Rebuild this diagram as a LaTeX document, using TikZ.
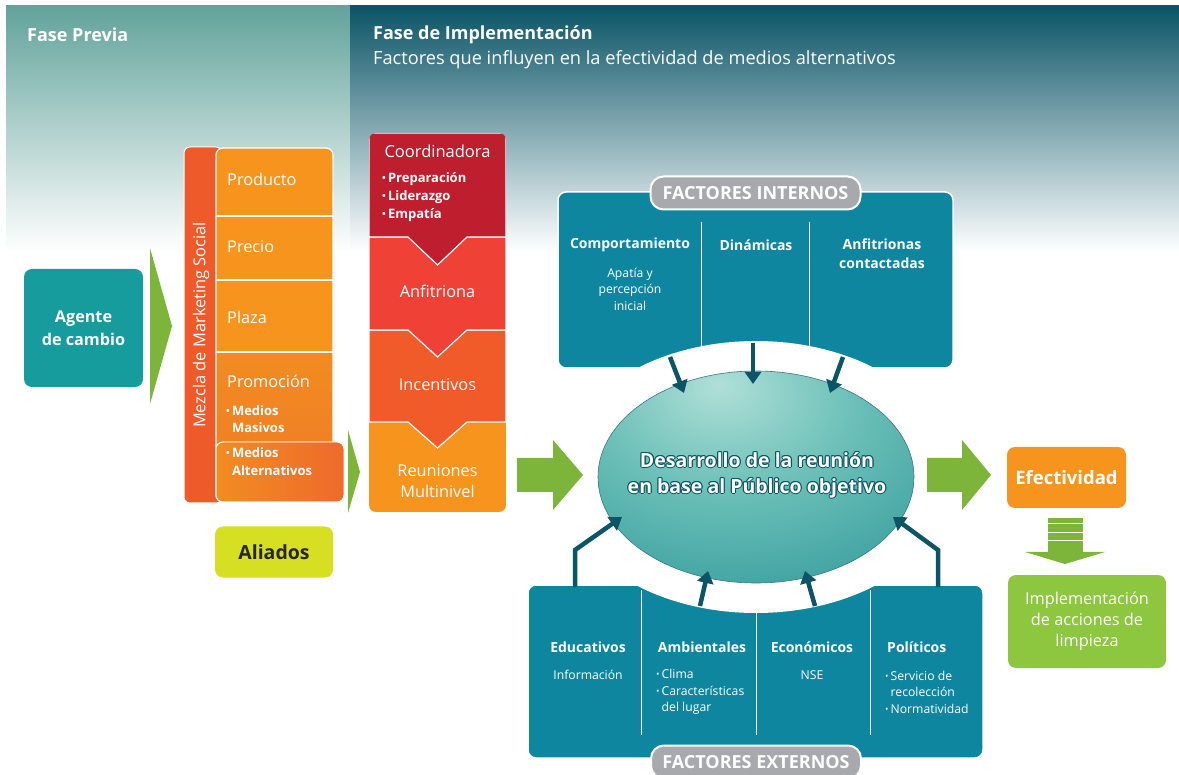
\documentclass[tikz,border=0pt]{standalone}
\usepackage{fontspec}
\setmainfont{Open Sans}
\usetikzlibrary{arrows.meta}

\definecolor{previaArriba}{HTML}{62A39B}
\definecolor{previaMedio}{HTML}{A9CCC8}
\definecolor{implArriba}{HTML}{0A5466}
\definecolor{implMedio}{HTML}{6D8E9C}
\definecolor{agente}{HTML}{169C9C}
\definecolor{flecha}{HTML}{7DB53A}
\definecolor{mezcla}{HTML}{EF5A2B}
\definecolor{naranja}{HTML}{F7941E}
\definecolor{promoA}{HTML}{F28C22}
\definecolor{promoB}{HTML}{EE7A24}
\definecolor{tabB}{HTML}{EE6A2B}
\definecolor{rojoOsc}{HTML}{BE1E2D}
\definecolor{rojo}{HTML}{EF4136}
\definecolor{rojoNar}{HTML}{F15A29}
\definecolor{aliados}{HTML}{D7DF23}
\definecolor{factor}{HTML}{0E86A0}
\definecolor{pastilla}{HTML}{A7A9AC}
\definecolor{oscuro}{HTML}{0B5566}
\definecolor{verdeClaro}{HTML}{8DC63F}
\definecolor{elipseLuz}{HTML}{B0E0D8}
\definecolor{elipseMed}{HTML}{6CC0B8}
\definecolor{elipseBorde}{HTML}{15878C}

\pgfdeclareradialshading{brillo}{\pgfpoint{-6bp}{22bp}}{%
  color(0bp)=(elipseLuz); color(20bp)=(elipseMed);
  color(58bp)=(elipseBorde); color(85bp)=(elipseBorde)}

\newcommand{\vineta}{\raisebox{0.15ex}{\scalebox{0.75}{\textbullet}}\,}

\tikzset{
  caja/.style={rounded corners=8pt, text=white, align=center, inner sep=0pt},
  celda/.style={anchor=west, inner sep=0pt, text=white, font=\fontsize{16.3}{19}\selectfont},
  lista/.style={anchor=west, inner sep=0pt, text=white, align=left},
  bloque/.style={draw=white, line width=1.2pt},
  titfactor/.style={inner sep=0pt, text=white, align=center, font=\bfseries\fontsize{14}{19}\selectfont},
  txtfactor/.style={inner sep=0pt, text=white, align=center, font=\fontsize{12.2}{16.5}\selectfont},
  pastilla/.style={fill=pastilla, draw=white, line width=2pt, rounded corners=13pt,
    minimum width=210pt, minimum height=33pt, text=white,
    font=\bfseries\fontsize{18}{20}\selectfont},
  flechaosc/.style={draw=oscuro, line width=4.5pt,
    -{Triangle[length=12pt,width=16pt]}},
  desarrollo/.style={inner sep=0pt, align=center,
    font=\bfseries\fontsize{19.5}{26}\selectfont}
}

\begin{document}
\begin{tikzpicture}[x=1pt, y=-1pt]
  \useasboundingbox (0,0) rectangle (1179,775);

  % fondo de las fases
  \shade[top color=previaArriba, middle color=previaMedio, bottom color=white] (6,6) rectangle (350,252);
  \shade[top color=implArriba, middle color=implMedio, bottom color=white] (350,6) rectangle (1179,252);
  \node[anchor=west, inner sep=0pt, text=white, font=\bfseries\fontsize{18}{20}\selectfont] (fprevia) at (27,35) {Fase Previa};
  \node[anchor=west, inner sep=0pt, text=white, font=\bfseries\fontsize{18}{20}\selectfont] (fimpl) at (373,35) {Fase de Implementación};
  \node[anchor=west, inner sep=0pt, text=white, font=\fontsize{18.2}{20}\selectfont] (fsub) at (373,60) {Factores que influyen en la efectividad de medios alternativos};

  % agente de cambio
  \node[caja, fill=agente, minimum width=119pt, minimum height=118pt, font=\bfseries\fontsize{16.2}{23}\selectfont] (agente) at (83.5,328) {Agente\\de cambio};
  \fill[flecha] (150,248) -- (172,326) -- (150,404) -- cycle;

  % mezcla de marketing social
  \draw[fill=mezcla, draw=white, line width=1pt, rounded corners=6pt] (184,147) rectangle (222,503);
  \node[rotate=90, inner sep=0pt, text=white, font=\fontsize{16.4}{19}\selectfont] (mezcla) at (201,325) {Mezcla de Marketing Social};
  \begin{scope}
    \clip[rounded corners=7pt] (216,148) rectangle (333,502);
    \fill[naranja] (216,148) rectangle (333,352);
    \shade[top color=promoA, bottom color=promoB] (216,352) rectangle (333,502);
    \draw[white, line width=1.2pt] (216,216) -- (333,216) (216,280) -- (333,280) (216,352) -- (333,352);
  \end{scope}
  \draw[white, line width=1.2pt, rounded corners=7pt] (216,148) rectangle (333,502);
  \shadedraw[left color=promoA, right color=tabB, draw=white, line width=1pt, rounded corners=7pt] (216,442) rectangle (344,502);
  \node[celda] (producto) at (227,179) {Producto};
  \node[celda] (precio) at (227,247) {Precio};
  \node[celda] (plaza) at (227,317) {Plaza};
  \node[celda] (promocion) at (227,381) {Promoción};
  \node[lista, font=\bfseries\fontsize{13}{17}\selectfont] (masivos) at (226,419) {\vineta Medios\\\phantom{\vineta}Masivos};
  \node[lista, font=\bfseries\fontsize{13}{18}\selectfont] (alternativos) at (226,462) {\vineta Medios\\\phantom{\vineta}Alternativos};
  \fill[flecha] (348,430) -- (360,472) -- (348,513) -- cycle;

  \node[caja, fill=aliados, text=black!85, minimum width=118pt, minimum height=51pt, font=\bfseries\fontsize{19.5}{20}\selectfont] (aliados) at (274,552) {Aliados};

  % columna de la reunion
  \begin{scope}
    \clip[rounded corners=7pt] (369,133) rectangle (506,512);
    \fill[naranja] (369,422) rectangle (506,512);
    \filldraw[bloque, fill=rojoNar] (369,330) -- (506,330) -- (506,422) -- (467,422) -- (437.5,448) -- (408,422) -- (369,422) -- cycle;
    \filldraw[bloque, fill=rojo] (369,237) -- (506,237) -- (506,330) -- (467,330) -- (437.5,357) -- (408,330) -- (369,330) -- cycle;
    \filldraw[bloque, fill=rojoOsc] (369,133) -- (506,133) -- (506,237) -- (467,237) -- (437.5,265) -- (408,237) -- (369,237) -- cycle;
  \end{scope}
  \node[inner sep=0pt, text=white, font=\fontsize{16.5}{19}\selectfont] (coordinadora) at (437.5,151) {Coordinadora};
  \node[lista, font=\bfseries\fontsize{13}{18}\selectfont] (cualidades) at (382,197) {\vineta Preparación\\\vineta Liderazgo\\\vineta Empatía};
  \node[inner sep=0pt, text=white, font=\fontsize{16.3}{19}\selectfont] (anfitriona) at (437.5,291) {Anfitriona};
  \node[inner sep=0pt, text=white, font=\fontsize{16.3}{19}\selectfont] (incentivos) at (437.5,385) {Incentivos};
  \node[inner sep=0pt, text=white, align=center, font=\fontsize{16.3}{21}\selectfont] (reuniones) at (437.5,481) {Reuniones\\Multinivel};

  % factores internos y externos
  \draw[fill=factor, draw=white, line width=1.5pt, rounded corners=8pt] (558,192) rectangle (953,368);
  \draw[fill=factor, draw=white, line width=1.5pt, rounded corners=8pt] (528,585) rectangle (983,758);
  \draw[white, line width=1pt] (701,222) -- (701,360) (809,222) -- (809,360);
  \draw[white, line width=1pt] (641,590) -- (641,735) (756,600) -- (756,735) (870,590) -- (870,735);
  \fill[white] (756,477) ellipse [x radius=198, y radius=136];

  % flechas verdes
  \fill[flecha] (517,458) -- (553,458) -- (553,440) -- (583,475) -- (553,510) -- (553,492) -- (517,492) -- cycle;
  \fill[flecha] (927,458) -- (962,458) -- (962,440) -- (991,475) -- (962,510) -- (962,492) -- (927,492) -- cycle;

  \node[titfactor] (comportamiento) at (630,245) {Comportamiento};
  \node[txtfactor] (apatia) at (630,289) {Apatía y\\percepción\\inicial};
  \node[titfactor] (dinamicas) at (756,245) {Dinámicas};
  \node[titfactor] (contactadas) at (882,254) {Anfitrionas\\contactadas};

  \node[titfactor] (educativos) at (588,647) {Educativos};
  \node[txtfactor] (informacion) at (588,675) {Información};
  \node[titfactor] (ambientales) at (702,647) {Ambientales};
  \node[lista, font=\fontsize{12.2}{16.5}\selectfont] (clima) at (656,692) {\vineta Clima\\\vineta Características\\\phantom{\vineta}del lugar};
  \node[titfactor] (economicos) at (812,647) {Económicos};
  \node[txtfactor] (nse) at (812,675) {NSE};
  \node[titfactor, anchor=west] (politicos) at (887,647) {Políticos};
  \node[lista, font=\fontsize{12.2}{16.5}\selectfont] (servicio) at (885,692) {\vineta Servicio de\\\phantom{\vineta}recolección\\\vineta Normatividad};

  % desarrollo de la reunion
  \shadedraw[shading=brillo, draw=oscuro!80, line width=0.6pt] (756,477) ellipse [x radius=158, y radius=106];
  \foreach \a in {0,45,...,315}
    \node[desarrollo, text=oscuro, shift={(\a:1.1)}] (sombra\a) at (757,475) {Desarrollo de la reunión\\en base al Público objetivo};
  \node[desarrollo, text=white] (desarrollo) at (757,475) {Desarrollo de la reunión\\en base al Público objetivo};

  \coordinate (int1) at (670,357);  \coordinate (des1) at (684,393);
  \coordinate (int2) at (753,343);  \coordinate (des2) at (753,384);
  \coordinate (int3) at (843,357);  \coordinate (des3) at (830,393);
  \draw[flechaosc] (int1) -- (des1);
  \draw[flechaosc] (int2) -- (des2);
  \draw[flechaosc] (int3) -- (des3);

  \coordinate (ext1) at (575,587);  \coordinate (des4) at (622,517);
  \coordinate (ext2) at (700,606);  \coordinate (des5) at (708,571);
  \coordinate (ext3) at (815,606);  \coordinate (des6) at (805,571);
  \coordinate (ext4) at (938,587);  \coordinate (des7) at (893,517);
  \draw[flechaosc] (ext1) -- (575,550) -- (des4);
  \draw[flechaosc] (ext2) -- (des5);
  \draw[flechaosc] (ext3) -- (des6);
  \draw[flechaosc] (ext4) -- (938,550) -- (des7);

  \node[pastilla] (internos) at (755.5,193) {FACTORES INTERNOS};
  \node[pastilla] (externos) at (756,762) {FACTORES EXTERNOS};

  % efectividad
  \node[caja, fill=naranja, minimum width=119pt, minimum height=61pt, font=\bfseries\fontsize{18.5}{20}\selectfont] (efectividad) at (1066.5,477.5) {Efectividad};
  \fill[flecha] (1048,518) rectangle (1083,552);
  \draw[white, line width=1pt] (1048,524) -- (1083,524) (1048,533) -- (1083,533) (1048,541) -- (1083,541);
  \fill[flecha] (1025,552) -- (1105,552) -- (1065,564) -- cycle;
  \node[caja, fill=verdeClaro, minimum width=158pt, minimum height=93pt, font=\fontsize{16.3}{21}\selectfont] (limpieza) at (1087,621.5) {Implementación\\de acciones de\\limpieza};
\end{tikzpicture}
\end{document}
